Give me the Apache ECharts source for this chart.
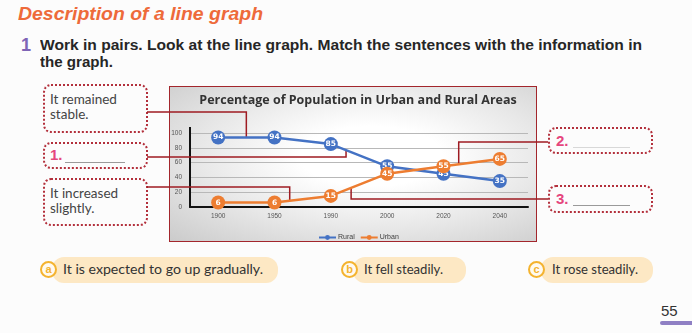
<!DOCTYPE html>
<html>
<head>
<meta charset="utf-8">
<script src="https://cdn.jsdelivr.net/npm/echarts@6/dist/echarts.min.js"></script>
<style>
  html, body { margin: 0; padding: 0; }
  body { width: 692px; height: 333px; position: relative; overflow: hidden; background: #fcfcfc; font-family: "Lato", "DejaVu Sans", sans-serif; }
  .abs { position: absolute; white-space: nowrap; }
  .heading { left: 18px; top: 4px; font: italic bold 18px "Liberation Sans", Arial, sans-serif; color: #ee6a3a; transform-origin: 0 0; }
  .num { left: 21px; top: 35px; font: bold 18px "Liberation Sans", sans-serif; color: #7e64b6; }
  .instr { left: 40px; font: bold 14.5px "Liberation Sans", sans-serif; color: #262626; transform-origin: 0 0; }
  .chartbox { left: 169px; top: 86px; width: 366px; height: 154px; border: 1.5px solid #a3262c;
              background: radial-gradient(ellipse at 55% 45%, #ffffff 25%, #e8e8e8 60%, #cbcbcb 100%); }
  .box { border: 2px dotted #b3303c; border-radius: 8px; box-sizing: border-box; }
  .btxt { font-size: 13.5px; color: #444; line-height: 15px; }
  .pink { font: bold 15px "Liberation Sans", sans-serif; color: #e5467d; }
  .blank { height: 0; border-top: 1px solid #9a9a9a; }
  .pill { background: #fde8c4; border-radius: 12px; height: 26px; }
  .circ { width: 13px; height: 13px; border: 2px solid #f4b32f; border-radius: 50%; background: #fffaf0;
          color: #f4b32f; font: bold 11px "Liberation Sans", sans-serif; text-align: center; line-height: 12px; }
  .ptxt { font-size: 12.5px; color: #333; transform-origin: 0 50%; }
  .pnum { left: 661px; top: 302px; font: 15px "Liberation Sans", sans-serif; color: #333; }
  .pbar { left: 660px; top: 321px; width: 40px; height: 4px; background: #8f80c4; border-radius: 2px; }
  #chart { position: absolute; left: 0; top: 0; width: 692px; height: 333px; }
</style>
</head>
<body>
<div class="abs heading" data-fit="245">Description of a line graph</div>
<div class="abs num">1</div>
<div class="abs instr" style="top:37px" data-fit="602">Work in pairs. Look at the line graph. Match the sentences with the information in</div>
<div class="abs instr" style="top:54px" data-fit="73">the graph.</div>

<div class="abs chartbox"></div>

<div class="abs box" style="left:43px; top:84px; width:105px; height:49px;"></div>
<div class="abs btxt" style="left:50px; top:92px;">It remained<br>stable.</div>
<div class="abs box" style="left:43px; top:142px; width:105px; height:27px;"></div>
<div class="abs pink" style="left:50px; top:146px;">1.</div>
<div class="abs blank" style="left:65px; top:162px; width:60px;"></div>
<div class="abs box" style="left:43px; top:178px; width:105px; height:48px;"></div>
<div class="abs btxt" style="left:50px; top:186px;">It increased<br>slightly.</div>

<div class="abs box" style="left:548px; top:127px; width:105px; height:27px;"></div>
<div class="abs pink" style="left:556px; top:132px;">2.</div>
<div class="abs blank" style="left:573px; top:147px; width:57px; border-color:#d8d8d8;"></div>
<div class="abs box" style="left:548px; top:185px; width:105px; height:28px;"></div>
<div class="abs pink" style="left:556px; top:190px;">3.</div>
<div class="abs blank" style="left:573px; top:205px; width:57px;"></div>

<div class="abs pill" style="left:52px; top:257px; width:226px;"></div>
<div class="abs circ" style="left:40px; top:261px;">a</div>
<div class="abs ptxt" style="left:63px; top:262px;" data-fit="200">It is expected to go up gradually.</div>
<div class="abs pill" style="left:353px; top:257px; width:113px;"></div>
<div class="abs circ" style="left:341px; top:261px;">b</div>
<div class="abs ptxt" style="left:364px; top:262px;" data-fit="79">It fell steadily.</div>
<div class="abs pill" style="left:541px; top:257px; width:112px;"></div>
<div class="abs circ" style="left:528px; top:261px;">c</div>
<div class="abs ptxt" style="left:552px; top:262px;" data-fit="86">It rose steadily.</div>

<div class="abs pnum">55</div>
<div class="abs pbar"></div>

<div id="chart"></div>

<script>
// ---- data ----
const chartTitle = 'Percentage of Population in Urban and Rural Areas';
const categories = ['1900', '1950', '1990', '2000', '2020', '2040'];
const rural = [94, 94, 85, 55, 45, 35];
const urban = [6, 6, 15, 45, 55, 65];
const seriesNames = ['Rural', 'Urban'];

// fit text widths
document.querySelectorAll('[data-fit]').forEach(function (el) {
  const target = parseFloat(el.getAttribute('data-fit'));
  const w = el.getBoundingClientRect().width;
  if (w > 0) el.style.transform = 'scaleX(' + (target / w) + ')';
});

const BLUE = '#4472c4', ORANGE = '#ed7d31';
const chart = echarts.init(document.getElementById('chart'), null, { renderer: 'canvas' });

function mkSeries(name, data, color, z) {
  return {
    name: name, type: 'line', data: data, z: z,
    symbol: 'circle', symbolSize: 14,
    lineStyle: { color: color, width: 2.5 },
    itemStyle: { color: color },
    label: { show: true, position: 'inside', color: '#fff', fontSize: 7.5, fontWeight: 'bold', fontFamily: 'DejaVu Sans' },
    emphasis: { disabled: true },
    animation: false
  };
}

chart.setOption({
  animation: false,
  backgroundColor: 'transparent',
  title: {
    text: chartTitle, left: 353, top: 89, textAlign: 'center',
    textStyle: { fontSize: 12.5, fontWeight: 'bold', color: '#333', fontFamily: 'Open Sans' }
  },
  legend: {
    data: seriesNames, left: 313, top: 229, itemWidth: 17, itemHeight: 6, itemGap: 5,
    textStyle: { fontSize: 7, color: '#404040', padding: [0, 0, 0, -3] }
  },
  grid: { left: 190, right: 164, top: 133, bottom: 126 },
  xAxis: {
    type: 'category', data: categories, boundaryGap: true,
    axisLine: { lineStyle: { color: '#111', width: 2 } },
    axisTick: { show: false },
    axisLabel: { fontSize: 6.5, color: '#555', margin: 6 }
  },
  yAxis: {
    type: 'value', min: 0, max: 100, interval: 20,
    axisLine: { show: true, lineStyle: { color: '#111', width: 2 } },
    axisTick: { show: false },
    axisLabel: { fontSize: 6.5, color: '#555', margin: 8 },
    splitLine: { lineStyle: { color: '#b8b8b8', width: 1 } }
  },
  series: [mkSeries('Rural', rural, BLUE, 3), mkSeries('Urban', urban, ORANGE, 4)]
});

// connectors from the sentence boxes to points on the lines
const seriesData = { rural: rural, urban: urban };
const connectors = [
  { s: 'rural', i: 0, t: 0.5,  bx: 147, by: 112 },
  { s: 'rural', i: 2, t: 0.27, bx: 147, by: 157 },
  { s: 'urban', i: 1, t: 0.27, bx: 147, by: 187 },
  { s: 'urban', i: 4, t: 0.27, bx: 548, by: 142 },
  { s: 'urban', i: 2, t: 0.36, bx: 548, by: 199 }
];
const gfx = [];
connectors.forEach(function (c) {
  const d = seriesData[c.s];
  const p0 = chart.convertToPixel({ gridIndex: 0 }, [c.i, d[c.i]]);
  const p1 = chart.convertToPixel({ gridIndex: 0 }, [c.i + 1, d[c.i + 1]]);
  const px = p0[0] + (p1[0] - p0[0]) * c.t;
  const py = p0[1] + (p1[1] - p0[1]) * c.t;
  gfx.push({
    type: 'polyline', z: 2, silent: true,
    shape: { points: [[c.bx, c.by], [px, c.by], [px, py]] },
    style: { stroke: '#9e1b22', lineWidth: 1.5, fill: null }
  });
});
// small extension of the vertical axis above the top gridline
const yTopPx = chart.convertToPixel({ gridIndex: 0 }, [0, 100]);
gfx.push({
  type: 'line', z: 2, silent: true,
  shape: { x1: 190, y1: yTopPx[1] - 6, x2: 190, y2: yTopPx[1] },
  style: { stroke: '#111', lineWidth: 2 }
});
chart.setOption({ graphic: gfx });
</script>
</body>
</html>
